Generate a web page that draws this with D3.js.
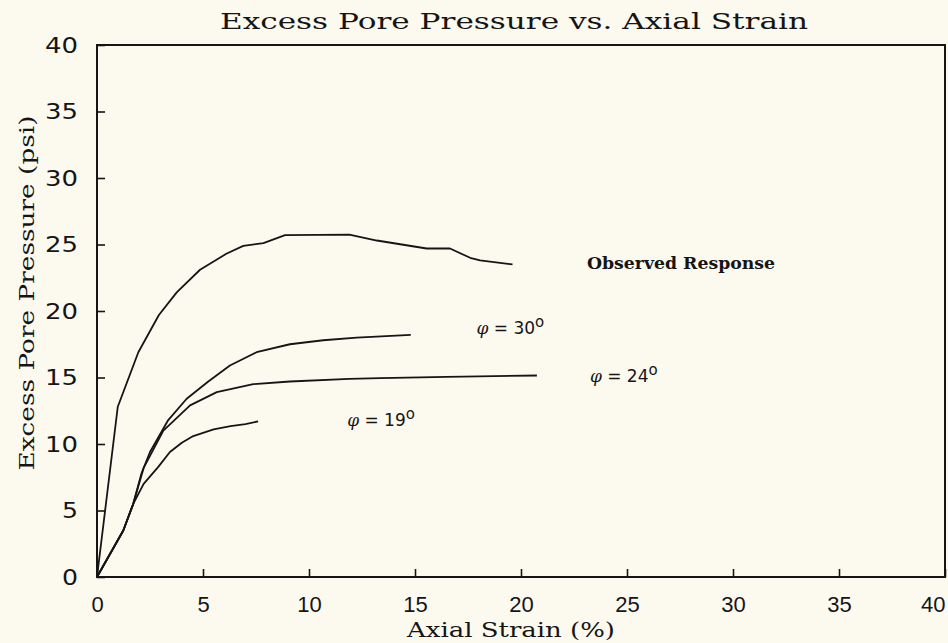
<!DOCTYPE html>
<html>
<head>
<meta charset="utf-8">
<script src="https://cdn.jsdelivr.net/npm/d3@7"></script>
<style>
html,body{margin:0;padding:0;background:#fcf9ef;}
svg{display:block;}
</style>
</head>
<body>
<svg id="chart" width="948" height="643"></svg>
<script>
const title = "Excess Pore Pressure vs. Axial Strain";
const xLabel = "Axial Strain (%)";
const yLabel = "Excess Pore Pressure (psi)";
const xTicks = [0, 5, 10, 15, 20, 25, 30, 35, 40];
const yTicks = [0, 5, 10, 15, 20, 25, 30, 35, 40];

// [axial strain %, excess pore pressure psi]
const observed = [[0,0],[0.98,12.8],[1.95,16.9],[2.92,19.7],[3.76,21.4],[4.86,23.1],[6.1,24.3],[6.9,24.9],[7.85,25.1],[8.87,25.7],[11.9,25.75],[13.2,25.3],[15.55,24.7],[16.65,24.7],[17.6,24.0],[18.07,23.8],[19.6,23.5]];
const phi30 = [[0,0],[1.24,3.5],[1.71,5.5],[2.1,7.8],[2.5,9.4],[3.36,11.8],[4.23,13.4],[5.25,14.7],[6.27,15.9],[7.53,16.9],[9.1,17.5],[10.67,17.8],[12.25,18.0],[14.8,18.2]];
const phi24 = [[0,0],[1.24,3.5],[1.71,5.5],[2.2,8.2],[3.13,11.0],[4.39,12.9],[5.65,13.9],[7.37,14.5],[9.1,14.7],[11.9,14.9],[13.35,14.95],[16.5,15.05],[20.75,15.15]];
const phi19 = [[0,0],[1.24,3.5],[1.71,5.5],[2.2,7.0],[2.9,8.3],[3.44,9.4],[4.0,10.1],[4.54,10.6],[5.5,11.1],[6.3,11.35],[7.0,11.5],[7.6,11.7]];

const seriesNames = ["Observed Response", "φ = 30", "φ = 24", "φ = 19"];

const svg = d3.select("#chart");
const W = 948, H = 643;
const m = {left: 97, right: 3, top: 45, bottom: 66};
const x = d3.scaleLinear().domain([0, 40]).range([m.left, W - m.right]);
const y = d3.scaleLinear().domain([0, 40]).range([H - m.bottom, m.top]);
const ink = "#151515";

svg.append("rect").attr("width", W).attr("height", H).attr("fill", "#fcf9ef");

// frame
svg.append("rect")
  .attr("x", x(0)).attr("y", y(40))
  .attr("width", x(40) - x(0)).attr("height", y(0) - y(40))
  .attr("fill", "none").attr("stroke", ink).attr("stroke-width", 2);

// axes
const yAxis = svg.append("g").attr("transform", `translate(${x(0)},0)`)
  .call(d3.axisLeft(y).tickValues(yTicks).tickSizeInner(-8).tickSizeOuter(0).tickPadding(19));
const xAxis = svg.append("g").attr("transform", `translate(0,${y(0)})`)
  .call(d3.axisBottom(x).tickValues(xTicks).tickSizeInner(-8).tickSizeOuter(0).tickPadding(19));
[yAxis, xAxis].forEach(a => {
  a.select(".domain").remove();
  a.selectAll(".tick line").attr("stroke", ink).attr("stroke-width", 1.6);
  a.selectAll(".tick text").attr("fill", ink);
});
yAxis.selectAll(".tick text")
  .style("font-family", "'DejaVu Sans', sans-serif").style("font-size", "22px")
  .attr("textLength", d => String(d).length > 1 ? 33 : 16).attr("lengthAdjust", "spacingAndGlyphs");
xAxis.selectAll(".tick text")
  .style("font-family", "'Liberation Sans', sans-serif").style("font-size", "22px")
  .attr("text-anchor", d => d === 40 ? "end" : "middle");

// lines
const line = d3.line().x(d => x(d[0])).y(d => y(d[1]));
[observed, phi30, phi24, phi19].forEach((s, i) => {
  svg.append("path").datum(s).attr("d", line)
    .attr("fill", "none").attr("stroke", ink).attr("stroke-width", 1.8)
    .attr("stroke-linejoin", "round").attr("class", "series-" + i);
});

// title & axis labels
svg.append("text").attr("x", 514).attr("y", 29).attr("text-anchor", "middle")
  .attr("textLength", 588).attr("lengthAdjust", "spacingAndGlyphs")
  .style("font-family", "'DejaVu Serif', serif").style("font-size", "23px").attr("fill", ink)
  .text(title);
svg.append("text").attr("x", 511).attr("y", 637).attr("text-anchor", "middle")
  .attr("textLength", 208).attr("lengthAdjust", "spacingAndGlyphs")
  .style("font-family", "'DejaVu Serif', serif").style("font-size", "20px").attr("fill", ink)
  .text(xLabel);
svg.append("text").attr("transform", "translate(34,293) rotate(-90)").attr("text-anchor", "middle")
  .attr("textLength", 355).attr("lengthAdjust", "spacingAndGlyphs")
  .style("font-family", "'DejaVu Serif', serif").style("font-size", "21px").attr("fill", ink)
  .text(yLabel);

// annotations
svg.append("text").attr("x", 587).attr("y", 269)
  .attr("textLength", 188).attr("lengthAdjust", "spacingAndGlyphs")
  .style("font-family", "'DejaVu Serif', serif").style("font-size", "16px").style("font-weight", "bold").attr("fill", ink)
  .text(seriesNames[0]);

const phiLabels = [
  {name: seriesNames[1], px: 17.9, py: 18.3},
  {name: seriesNames[2], px: 23.25, py: 14.66},
  {name: seriesNames[3], px: 11.8, py: 11.35}
];
phiLabels.forEach(l => {
  const t = svg.append("text").attr("x", x(l.px)).attr("y", y(l.py))
    .style("font-family", "'DejaVu Sans', sans-serif").style("font-size", "17px").attr("fill", ink);
  const parts = l.name.split(" = ");
  t.append("tspan").style("font-style", "italic").style("font-family", "'DejaVu Serif', serif").text(parts[0]);
  t.append("tspan").text(" = " + parts[1]);
  t.append("tspan").attr("dy", -7).style("font-size", "15px").text("o");
});
</script>
</body>
</html>
